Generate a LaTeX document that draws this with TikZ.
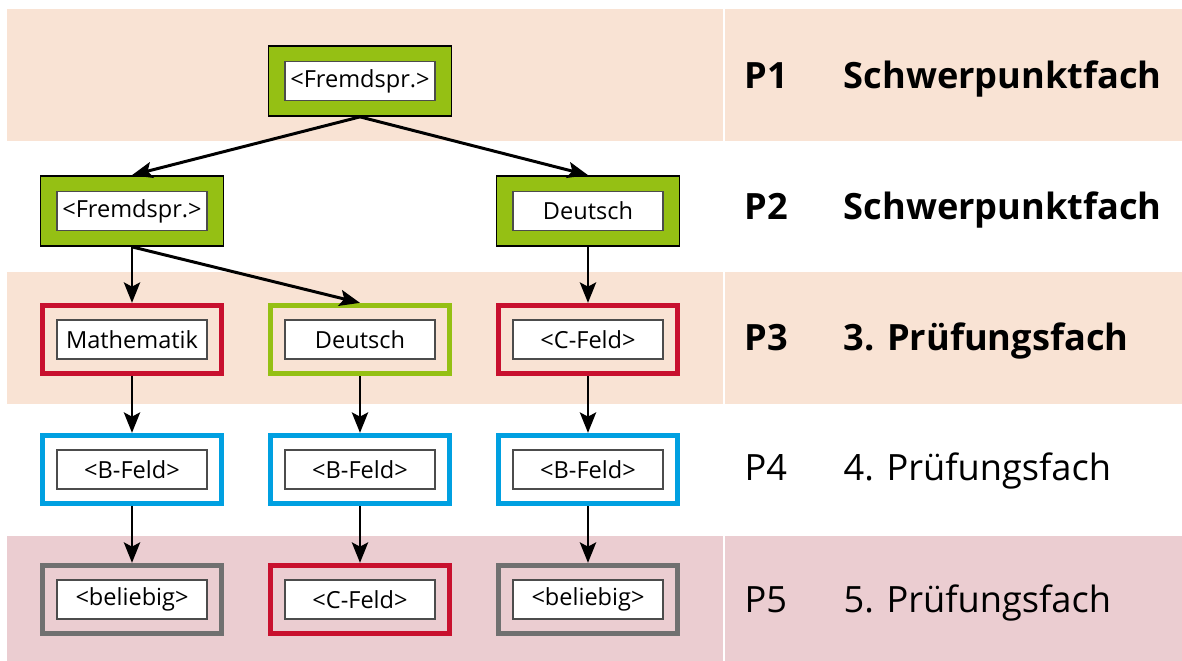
\documentclass[tikz,border=0pt]{standalone}
\usepackage{fontspec}
\setmainfont{Open Sans}
\usetikzlibrary{arrows.meta}
\definecolor{bandpeach}{RGB}{249,227,212}
\definecolor{bandrosa}{RGB}{235,205,209}
\definecolor{fachgruen}{RGB}{149,192,20}
\definecolor{fachrot}{RGB}{200,16,46}
\definecolor{fachblau}{RGB}{0,160,225}
\definecolor{fachgrau}{RGB}{112,112,112}
\begin{document}
\begin{tikzpicture}[
	gruen/.style={draw=black, line width=0.5pt, fill=fachgruen, minimum width=1.83cm, minimum height=0.70cm},
	rahmen/.style={draw=#1, line width=1.5pt, minimum width=1.79cm, minimum height=0.68cm},
	feld/.style={draw=black!70, line width=0.5pt, fill=white, inner sep=0pt, minimum width=1.50cm, minimum height=0.39cm, font=\fontsize{6.7}{8}\selectfont},
	pfeil/.style={line width=0.85pt, -{Stealth[length=5.8pt,width=4.6pt,inset=1.2pt]}},
	stufe/.style={anchor=base west, inner sep=0pt, font=\fontsize{10.3}{12}\selectfont}]
	\useasboundingbox (0,0) rectangle (11.82,6.61);
	% Baender
	\fill[bandpeach] (0.07,5.20) rectangle (7.235,6.52);
	\fill[bandpeach] (7.25,5.20) rectangle (11.82,6.52);
	\fill[bandpeach] (0.07,2.57) rectangle (7.235,3.89);
	\fill[bandpeach] (7.25,2.57) rectangle (11.82,3.89);
	\fill[bandrosa] (0.07,0) rectangle (7.235,1.25);
	\fill[bandrosa] (7.25,0) rectangle (11.82,1.25);
	% P1
	\node[gruen] (p1) at (3.60,5.80) {};
	\node[feld] (p1t) at (p1) {<Fremdspr.>};
	% P2
	\node[gruen] (p2a) at (1.32,4.50) {};
	\node[feld] (p2at) at (p2a) {<Fremdspr.>};
	\node[gruen] (p2c) at (5.88,4.50) {};
	\node[feld] (p2ct) at (p2c) {Deutsch};
	% P3
	\node[rahmen=fachrot] (p3a) at (1.32,3.215) {};
	\node[feld] (p3at) at (p3a) {Mathematik};
	\node[rahmen=fachgruen] (p3b) at (3.60,3.215) {};
	\node[feld] (p3bt) at (p3b) {Deutsch};
	\node[rahmen=fachrot] (p3c) at (5.88,3.215) {};
	\node[feld] (p3ct) at (p3c) {<C-Feld>};
	% P4
	\node[rahmen=fachblau] (p4a) at (1.32,1.915) {};
	\node[feld] (p4at) at (p4a) {<B-Feld>};
	\node[rahmen=fachblau] (p4b) at (3.60,1.915) {};
	\node[feld] (p4bt) at (p4b) {<B-Feld>};
	\node[rahmen=fachblau] (p4c) at (5.88,1.915) {};
	\node[feld] (p4ct) at (p4c) {<B-Feld>};
	% P5
	\node[rahmen=fachgrau] (p5a) at (1.32,0.615) {};
	\node[feld] (p5at) at (p5a) {<beliebig>};
	\node[rahmen=fachrot] (p5b) at (3.60,0.615) {};
	\node[feld] (p5bt) at (p5b) {<C-Feld>};
	\node[rahmen=fachgrau] (p5c) at (5.88,0.615) {};
	\node[feld] (p5ct) at (p5c) {<beliebig>};
	% Pfeile
	\draw[pfeil] (p1.south) -- (p2a.north);
	\draw[pfeil] (p1.south) -- (p2c.north);
	\draw[pfeil] (p2a.south) -- (p3a.north);
	\draw[pfeil] (p2a.south) -- (p3b.north);
	\draw[pfeil] (p2c.south) -- (p3c.north);
	\draw[pfeil] (p3a) -- (p4a);
	\draw[pfeil] (p3b) -- (p4b);
	\draw[pfeil] (p3c) -- (p4c);
	\draw[pfeil] (p4a) -- (p5a);
	\draw[pfeil] (p4b) -- (p5b);
	\draw[pfeil] (p4c) -- (p5c);
	% Beschriftung rechts
	\node[stufe, font=\fontsize{10.3}{12}\selectfont\bfseries] (n1) at (7.44,5.72) {P1};
	\node[stufe, font=\fontsize{10.3}{12}\selectfont\bfseries] (f1) at (8.43,5.72) {Schwerpunktfach};
	\node[stufe, font=\fontsize{10.3}{12}\selectfont\bfseries] (n2) at (7.44,4.41) {P2};
	\node[stufe, font=\fontsize{10.3}{12}\selectfont\bfseries] (f2) at (8.43,4.41) {Schwerpunktfach};
	\node[stufe, font=\fontsize{10.3}{12}\selectfont\bfseries] (n3) at (7.44,3.10) {P3};
	\node[stufe, font=\fontsize{10.3}{12}\selectfont\bfseries] (f3) at (8.43,3.10) {3. Prüfungsfach};
	\node[stufe] (n4) at (7.44,1.80) {P4};
	\node[stufe] (f4) at (8.43,1.80) {4. Prüfungsfach};
	\node[stufe] (n5) at (7.44,0.48) {P5};
	\node[stufe] (f5) at (8.43,0.48) {5. Prüfungsfach};
\end{tikzpicture}
\end{document}
